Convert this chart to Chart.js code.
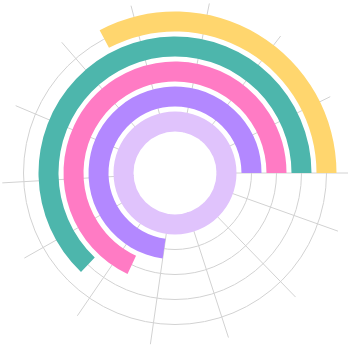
<!DOCTYPE html>
<html>
<head>
<meta charset="utf-8">
<script src="https://cdn.jsdelivr.net/npm/chart.js@4/dist/chart.umd.min.js"></script>
<style>
  html, body { margin: 0; padding: 0; background: #fff; }
  #wrap { position: relative; width: 351px; height: 346px; }
  #wrap canvas { position: absolute; left: 0; top: 0; }
</style>
</head>
<body>
<div id="wrap">
  <canvas id="grid" width="351" height="346"></canvas>
  <canvas id="bars" width="351" height="346"></canvas>
</div>
<script>
// angle axis: 0..275, tick every 20, bars grow counter-clockwise from 3 o'clock
const angleMax = 275;
const angleStep = 20;
const angleRes = 5;

// series, outermost first
const seriesNames = ['A', 'B', 'C', 'D', 'E'];
const seriesValues = [90, 173, 187, 200, 275];
const seriesColors = ['#FFD66E', '#4DB6AC', '#FF7BC4', '#B388FF', '#E0C3FC'];

// radial grid circles (px from centre)
const gridRadii = [51.5, 76.5, 101.5, 126.5, 151.5];

// one label per angleRes step, clockwise from 3 o'clock
const angleLabels = [];
for (let i = 0; i < angleMax / angleRes; i++) {
    angleLabels.push(((angleMax / angleRes - i) * angleRes) % angleMax);
}

new Chart(document.getElementById('grid'), {
    type: 'radar',
    data: { labels: angleLabels, datasets: [] },
    options: {
        responsive: false,
        animation: false,
        plugins: { legend: { display: false }, tooltip: { enabled: false } },
        scales: {
            r: {
                min: 0,
                max: 173,
                startAngle: 90,
                grid: { circular: true, color: '#d2d2d2', lineWidth: 1 },
                angleLines: {
                    color: (ctx) => (angleLabels[ctx.index] % angleStep === 0 ? '#d2d2d2' : 'rgba(0,0,0,0)'),
                    lineWidth: 1
                },
                pointLabels: { display: false },
                ticks: { display: false },
                afterBuildTicks: (scale) => {
                    scale.ticks = [0].concat(gridRadii).map(v => ({ value: v }));
                }
            }
        }
    }
});

// rings: bar (20px) + gap (5px), white disc in the middle
const datasets = [];
seriesValues.forEach((v, i) => {
    datasets.push({
        label: seriesNames[i],
        data: [angleMax - v, v],
        backgroundColor: ['rgba(0,0,0,0)', seriesColors[i]],
        borderWidth: 0,
        weight: 20
    });
    if (i < seriesValues.length - 1) {
        datasets.push({ data: [1], backgroundColor: ['rgba(0,0,0,0)'], borderWidth: 0, weight: 5 });
    }
});
datasets.push({ data: [1], backgroundColor: ['#ffffff'], borderWidth: 0, weight: 41.5 });

new Chart(document.getElementById('bars'), {
    type: 'doughnut',
    data: { labels: ['rest', 'value'], datasets: datasets },
    options: {
        responsive: false,
        animation: false,
        rotation: 90,
        cutout: 0,
        radius: 161.5,
        layout: { padding: { right: 1 } },
        plugins: { legend: { display: false }, tooltip: { enabled: false } }
    }
});
</script>
</body>
</html>
